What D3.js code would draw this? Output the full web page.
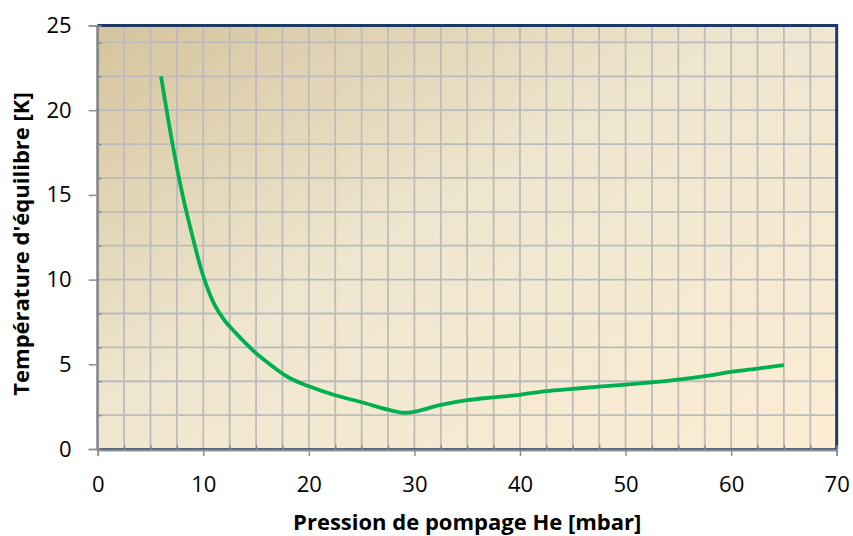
<!DOCTYPE html>
<html>
<head>
<meta charset="utf-8">
<script src="https://cdn.jsdelivr.net/npm/d3@7"></script>
<style>
  body { margin: 0; background: #fff; }
  text { font-family: "Open Sans", sans-serif; fill: #000; }
</style>
</head>
<body>
<div id="chart"></div>
<script>
'use strict';

// pressure [mbar] and equilibrium temperature [K]
var pression = [6, 7, 8, 9, 10, 11, 12, 13, 14, 15, 16, 18, 20, 22.5, 25, 27.5, 29, 30, 32.5, 35, 37.5, 40, 42.5, 45, 47.5, 50, 52.5, 55, 57.5, 60, 62.5, 65];
var temperature = [22, 18.3, 15.1, 12.5, 10.2, 8.6, 7.6, 6.9, 6.25, 5.65, 5.15, 4.25, 3.7, 3.17, 2.76, 2.32, 2.14, 2.2, 2.6, 2.88, 3.05, 3.2, 3.42, 3.55, 3.68, 3.8, 3.94, 4.1, 4.3, 4.55, 4.75, 4.95];

var xTicks = [0, 10, 20, 30, 40, 50, 60, 70];
var yTicks = [0, 5, 10, 15, 20, 25];
var xGrid = d3.range(0, 70.1, 2.5);
var yGrid = d3.range(0, 25, 2);

var width = 853, height = 536;
var margin = {top: 25.5, right: 16.3, bottom: 87, left: 97.7};
var w = width - margin.left - margin.right;
var h = height - margin.top - margin.bottom;

var svg = d3.select("#chart").append("svg")
  .attr("width", width)
  .attr("height", height);

var defs = svg.append("defs");
var grad = defs.append("linearGradient")
  .attr("id", "bg")
  .attr("x1", "0%").attr("y1", "0%")
  .attr("x2", "100%").attr("y2", "100%");
grad.append("stop").attr("offset", "0%").attr("stop-color", "#d5c49d");
grad.append("stop").attr("offset", "45%").attr("stop-color", "#efe6cf");
grad.append("stop").attr("offset", "100%").attr("stop-color", "#fcedd4");

var x = d3.scaleLinear().domain([0, 70]).range([0, w]);
var y = d3.scaleLinear().domain([0, 25]).range([h, 0]);

var g = svg.append("g")
  .attr("transform", "translate(" + margin.left + "," + margin.top + ")");

g.append("rect")
  .attr("width", w)
  .attr("height", h)
  .attr("fill", "url(#bg)");

// grid
g.append("g").selectAll("line")
  .data(xGrid.slice(1, -1))
  .enter().append("line")
  .attr("x1", function(d) { return x(d); })
  .attr("x2", function(d) { return x(d); })
  .attr("y1", 0).attr("y2", h)
  .attr("stroke", "#bcbcbc")
  .attr("stroke-width", 1.8);

g.append("g").selectAll("line")
  .data(yGrid.slice(1))
  .enter().append("line")
  .attr("x1", 0).attr("x2", w)
  .attr("y1", function(d) { return y(d); })
  .attr("y2", function(d) { return y(d); })
  .attr("stroke", "#bcbcbc")
  .attr("stroke-width", 1.8);

// plot frame
g.append("rect")
  .attr("width", w)
  .attr("height", h)
  .attr("fill", "none")
  .attr("stroke", "#1f3864")
  .attr("stroke-width", 1.5);
g.append("path")
  .attr("d", "M0,0H" + w + "V" + h)
  .attr("fill", "none")
  .attr("stroke", "#1f3864")
  .attr("stroke-width", 3);

// axes
g.append("g")
  .attr("transform", "translate(0," + (h + 1) + ")")
  .call(d3.axisBottom(x).tickValues(xTicks).tickSize(6).tickPadding(20));
g.append("g")
  .attr("transform", "translate(-1,0)")
  .call(d3.axisLeft(y).tickValues(yTicks).tickSize(8).tickPadding(17));

// minor ticks
g.append("g").attr("transform", "translate(0," + (h + 1) + ")")
  .call(d3.axisBottom(x).tickValues(xGrid.filter(function(d) { return d % 10 !== 0; })).tickSize(-5).tickFormat(""));
g.append("g").attr("transform", "translate(-1,0)")
  .call(d3.axisLeft(y).tickValues(yGrid.filter(function(d) { return d % 5 !== 0; })).tickSize(-5).tickFormat(""));

svg.selectAll(".domain").attr("stroke", "#8c8c8c").attr("stroke-width", 1.5);
svg.selectAll(".tick line").attr("stroke", "#8c8c8c").attr("stroke-width", 1.5);
svg.selectAll(".tick text")
  .style("font-family", "'Open Sans', sans-serif")
  .style("font-size", "22px");

// curve
var line = d3.line()
  .x(function(d, i) { return x(pression[i]); })
  .y(function(d, i) { return y(temperature[i]); })
  .curve(d3.curveCatmullRom.alpha(0.5));

g.append("path")
  .datum(temperature)
  .attr("d", line)
  .attr("fill", "none")
  .attr("stroke", "#00b050")
  .attr("stroke-width", 3.8)
  .attr("stroke-linejoin", "round");

// titles
svg.append("text")
  .attr("x", margin.left + w / 2)
  .attr("y", 530)
  .attr("text-anchor", "middle")
  .style("font-size", "22px")
  .style("font-weight", "bold")
  .text("Pression de pompage He [mbar]");

svg.append("text")
  .attr("transform", "translate(29,244) rotate(-90)")
  .attr("text-anchor", "middle")
  .style("font-size", "22px")
  .style("font-weight", "bold")
  .text("Température d'équilibre [K]");
</script>
</body>
</html>
